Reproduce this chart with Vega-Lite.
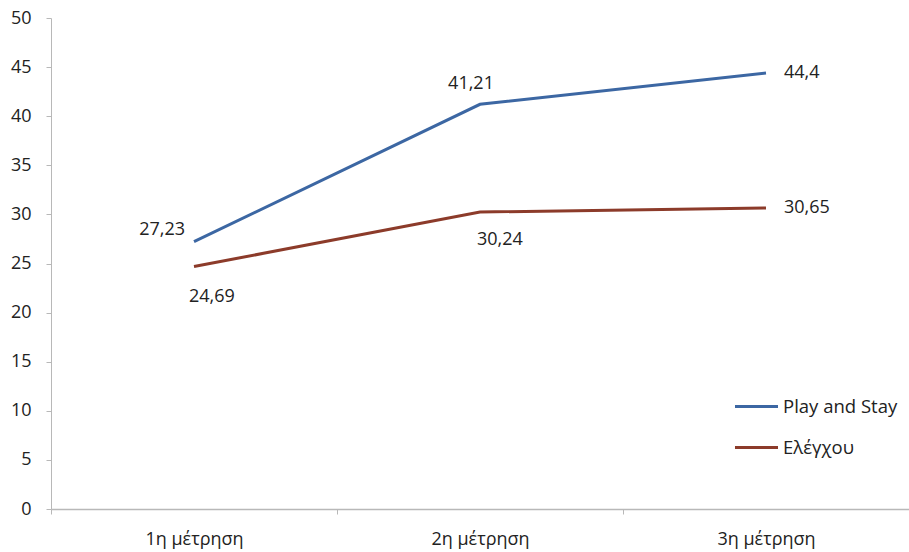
{
  "$schema": "https://vega.github.io/schema/vega-lite/v6.json",
  "width": 858,
  "height": 491,
  "autosize": {"type": "none"},
  "padding": {"left": 51, "top": 18, "right": 0, "bottom": 43},
  "background": "white",
  "config": {
    "view": {"stroke": null},
    "font": "Open Sans",
    "locale": {"number": {"decimal": ",", "thousands": ".", "grouping": [3], "currency": ["", " €"]}},
    "axis": {"grid": false, "domainColor": "#b8b8b8", "tickColor": "#b8b8b8", "labelColor": "#222222", "labelFont": "Open Sans", "labelFontSize": 18, "title": null}
  },
  "data": {
    "values": [
      {"measurement": "1η μέτρηση", "group": "Play and Stay", "value": 27.23},
      {"measurement": "2η μέτρηση", "group": "Play and Stay", "value": 41.21},
      {"measurement": "3η μέτρηση", "group": "Play and Stay", "value": 44.4},
      {"measurement": "1η μέτρηση", "group": "Ελέγχου", "value": 24.69},
      {"measurement": "2η μέτρηση", "group": "Ελέγχου", "value": 30.24},
      {"measurement": "3η μέτρηση", "group": "Ελέγχου", "value": 30.65}
    ]
  },
  "encoding": {
    "x": {
      "field": "measurement",
      "type": "nominal",
      "sort": null,
      "scale": {"paddingInner": 0, "paddingOuter": 0},
      "axis": {"labelAngle": 0, "tickBand": "extent", "tickSize": 5, "labelPadding": 16, "domainWidth": 1.5}
    },
    "y": {
      "field": "value",
      "type": "quantitative",
      "scale": {"domain": [0, 50], "nice": false},
      "axis": {"values": [0, 5, 10, 15, 20, 25, 30, 35, 40, 45, 50], "tickSize": 5, "labelPadding": 15}
    }
  },
  "layer": [
    {
      "mark": {"type": "line", "strokeWidth": 3},
      "encoding": {
        "color": {
          "field": "group",
          "type": "nominal",
          "sort": ["Play and Stay", "Ελέγχου"],
          "scale": {"domain": ["Play and Stay", "Ελέγχου"], "range": ["#3c67a3", "#8c3b2a"]},
          "legend": {
            "title": null,
            "orient": "none",
            "legendX": 682,
            "legendY": 365,
            "symbolType": "stroke",
            "symbolSize": 1850,
            "symbolStrokeWidth": 3,
            "labelFont": "Open Sans",
            "labelFontSize": 18.5,
            "labelColor": "#222222",
            "labelOffset": 3,
            "rowPadding": 8
          }
        }
      }
    },
    {
      "transform": [{"filter": "datum.group === 'Play and Stay' && datum.measurement === '1η μέτρηση'"}],
      "mark": {"type": "text", "align": "right", "dx": -9, "dy": -12, "fontSize": 18, "color": "#222222"},
      "encoding": {"text": {"field": "value", "type": "quantitative", "format": ".2~f"}}
    },
    {
      "transform": [{"filter": "datum.group === 'Ελέγχου' && datum.measurement === '1η μέτρηση'"}],
      "mark": {"type": "text", "align": "left", "dx": -5, "dy": 30, "fontSize": 18, "color": "#222222"},
      "encoding": {"text": {"field": "value", "type": "quantitative", "format": ".2~f"}}
    },
    {
      "transform": [{"filter": "datum.group === 'Play and Stay' && datum.measurement === '2η μέτρηση'"}],
      "mark": {"type": "text", "align": "center", "dx": -9, "dy": -20, "fontSize": 18, "color": "#222222"},
      "encoding": {"text": {"field": "value", "type": "quantitative", "format": ".2~f"}}
    },
    {
      "transform": [{"filter": "datum.group === 'Ελέγχου' && datum.measurement === '2η μέτρηση'"}],
      "mark": {"type": "text", "align": "left", "dx": -3, "dy": 28, "fontSize": 18, "color": "#222222"},
      "encoding": {"text": {"field": "value", "type": "quantitative", "format": ".2~f"}}
    },
    {
      "transform": [{"filter": "datum.measurement === '3η μέτρηση'"}],
      "mark": {"type": "text", "align": "left", "dx": 18, "dy": 0, "fontSize": 18, "color": "#222222"},
      "encoding": {"text": {"field": "value", "type": "quantitative", "format": ".2~f"}}
    }
  ]
}
